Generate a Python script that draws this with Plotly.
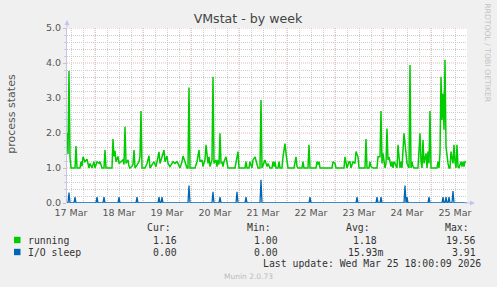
import pandas as pd
import plotly.graph_objects as go

START = pd.Timestamp("2026-03-17 10:00")

# running: (hours since start, value)
run_hours = [0, 0.5, 1.0, 1.5, 2.0, 4.0, 4.5, 5.0, 6.5, 7.0, 7.5, 8.0, 9.0, 10.0, 11.0, 11.5, 12.5, 13.5, 14.0,
             15.0, 16.0, 16.5, 17.5, 18.5, 19.0, 19.5, 22.5, 23.0, 23.5, 24.0, 24.5, 25.5, 26.0, 27.0, 28.0,
             28.5, 29.0, 29.5, 30.5, 31.0, 31.5, 32.5, 33.0, 33.5, 34.0, 35.0, 36.0, 36.5, 37.0, 37.5, 39.0,
             40.0, 41.0, 41.5, 43.0, 43.5, 44.5, 46.0, 46.5, 47.5, 48.5, 49.0, 50.0, 50.5, 51.5, 52.5, 53.0,
             54.0, 55.0, 55.5, 56.5, 57.5, 58.0, 59.0, 60.0, 60.5, 61.0, 61.5, 64.0, 65.0, 65.5, 66.0, 66.5,
             67.5, 68.0, 69.0, 69.5, 70.5, 71.0, 71.5, 72.5, 73.0, 73.5, 74.5, 75.0, 75.5, 76.0, 76.5, 77.0,
             77.5, 78.0, 78.5, 79.5, 80.0, 80.5, 84.0, 85.0, 85.5, 86.0, 89.0, 89.5, 90.0, 91.0, 91.5, 92.5,
             93.0, 94.0, 95.0, 95.5, 96.5, 97.0, 97.5, 98.5, 99.0, 100.0, 100.5, 101.5, 102.5, 103.0, 103.5,
             104.0, 104.5, 105.5, 106.0, 106.5, 107.5, 108.0, 109.0, 109.5, 110.0, 110.5, 113.5, 114.0, 114.5,
             115.0, 115.5, 117.5, 118.0, 118.5, 120.5, 121.0, 121.5, 124.5, 125.0, 125.5, 126.0, 126.5, 132.5,
             133.0, 134.0, 134.5, 138.5, 139.0, 139.5, 140.0, 141.0, 141.5, 142.0, 143.0, 144.0, 144.5, 145.5,
             146.0, 149.0, 149.5, 150.0, 151.0, 151.5, 152.0, 153.0, 155.0, 155.5, 156.5, 157.0, 157.5, 158.0,
             159.0, 159.5, 160.0, 160.5, 161.0, 162.0, 162.5, 163.0, 163.5, 164.0, 165.0, 165.5, 166.0, 166.5,
             167.0, 167.5, 168.0, 168.5, 169.5, 170.0, 171.0, 171.5, 172.0, 172.5, 173.0, 173.5, 175.5, 176.5,
             177.0, 177.5, 178.0, 178.5, 179.5, 180.0, 180.5, 181.0, 181.5, 182.0, 185.0, 185.5, 186.0, 186.5,
             187.0, 187.5, 188.0, 188.5, 189.0, 189.5, 190.5, 191.0, 191.5, 192.0, 193.0, 193.5, 194.0, 194.5,
             195.0, 195.5, 196.0, 197.0, 197.5, 198.0, 198.5, 199.0, 199.5]
run_values = [2.0, 1.4, 3.77, 1.3, 1.0, 1.0, 1.63, 1.0, 1.0, 1.18, 1.05, 1.32, 1.18, 1.25, 1.0, 1.13, 1.0, 1.18, 1.0,
              1.18, 1.13, 1.18, 1.0, 1.0, 1.51, 1.0, 1.0, 1.83, 1.33, 1.49, 1.18, 1.33, 1.13, 1.18, 1.23,
              1.1, 2.18, 1.13, 1.23, 1.05, 1.0, 1.05, 1.1, 1.51, 1.0, 1.08, 1.18, 1.33, 2.63, 1.0, 1.0,
              1.13, 1.35, 1.0, 1.13, 1.18, 1.04, 1.46, 1.13, 1.35, 1.51, 1.18, 1.34, 1.13, 1.04, 1.13, 1.18,
              1.13, 1.18, 1.13, 1.0, 1.18, 1.34, 1.18, 1.0, 1.0, 3.30, 1.0, 1.0, 1.18, 1.34, 1.51, 1.18,
              1.23, 1.04, 1.23, 1.66, 1.13, 1.32, 1.04, 1.23, 3.61, 1.13, 1.23, 1.04, 1.23, 1.1, 1.99, 1.13,
              1.18, 1.04, 1.18, 1.32, 1.13, 1.0, 1.0, 1.34, 1.47, 1.0, 1.0, 1.18, 1.0, 1.0, 1.18, 1.0,
              1.23, 1.32, 1.13, 1.0, 1.0, 2.94, 1.0, 1.13, 1.23, 1.04, 1.13, 1.0, 1.0, 1.18, 1.04,
              1.18, 1.0, 1.0, 1.18, 1.0, 1.0, 1.32, 1.70, 1.42, 1.13, 1.0, 1.0, 1.18, 1.32,
              1.04, 1.0, 1.0, 1.18, 1.0, 1.0, 1.66, 1.0, 1.0, 1.18, 1.1, 1.18, 1.0, 1.0,
              1.18, 1.13, 1.0, 1.0, 1.32, 1.18, 1.0, 1.18, 1.18, 1.0, 1.18, 1.13, 1.47, 1.32,
              1.0, 1.0, 1.83, 1.0, 1.0, 1.18, 1.04, 1.0, 1.0, 1.32, 1.32, 2.63, 1.13, 1.42,
              1.0, 1.13, 2.13, 1.23, 1.32, 1.04, 1.18, 1.0, 1.18, 1.13, 1.0, 1.66, 1.18, 1.0,
              1.18, 1.0, 1.51, 1.99, 1.42, 1.13, 1.0, 3.94, 1.0, 1.18, 1.04, 1.0, 1.0, 1.99,
              1.18, 1.0, 1.80, 1.13, 1.42, 1.0, 1.47, 1.13, 2.63, 1.0, 1.0, 1.18, 1.0, 1.42,
              3.61, 2.37, 3.13, 2.09, 4.09, 1.61, 1.13, 1.0, 1.0, 1.47, 1.13, 1.66, 1.18, 1.0,
              1.66, 1.04, 1.0, 1.18, 1.04, 1.18, 1.04, 1.18, 1.16]

# I/O sleep: (hours since start, value)
io_hours = [0, 0.5, 1.0, 1.5, 3.5, 4.0, 4.5, 14.5, 15.0, 15.5, 18.0, 18.5, 19.0, 25.5, 26.0, 26.5, 34.5, 35.0, 35.5,
            45.5, 46.0, 46.5, 47.0, 47.5, 48.0, 60.5, 61.0, 61.5, 72.5, 73.0, 73.5, 76.0, 76.5, 77.0, 84.5, 85.0,
            85.5, 89.0, 89.5, 90.0, 96.5, 97.0, 97.5, 121.0, 121.5, 122.0, 144.5, 145.0, 145.5, 154.5, 155.0,
            155.5, 156.5, 157.0, 157.5, 168.5, 169.0, 169.5, 170.0, 170.5, 180.5, 181.0, 181.5, 187.5, 188.0,
            188.5, 189.0, 189.5, 190.0, 190.5, 191.0, 191.5, 192.5, 193.0, 193.5, 200.0]
io_values = [0, 0, 0.30, 0, 0, 0.17, 0, 0, 0.17, 0, 0, 0.17, 0, 0, 0.17, 0, 0, 0.17, 0,
             0, 0.17, 0, 0, 0.17, 0, 0, 0.50, 0, 0, 0.32, 0, 0, 0.17, 0, 0, 0.32,
             0, 0, 0.17, 0, 0, 0.66, 0, 0, 0.17, 0, 0, 0.17, 0, 0, 0.17,
             0, 0, 0.17, 0, 0, 0.50, 0, 0.17, 0, 0, 0.17, 0, 0, 0.17,
             0, 0, 0.17, 0, 0, 0.17, 0, 0, 0.34, 0, 0]

day_labels = ["17 Mar", "18 Mar", "19 Mar", "20 Mar", "21 Mar", "22 Mar", "23 Mar", "24 Mar", "25 Mar"]
y_major = [1, 2, 3, 4, 5]

series_names = ["running", "I/O sleep"]
series_colors = ["#00CC00", "#0066B3"]
cur_vals = ["1.16", "0.00"]
min_vals = ["1.00", "0.00"]
avg_vals = ["1.18", "15.93m"]
max_vals = ["19.56", "3.91"]

W, H = 497, 287
L, R, T, B = 67, 467, 28, 203


def px(x):
    return (x - L) / (R - L)


def py(y):
    return (B - y) / (B - T)


run_x = [START + pd.Timedelta(hours=h) for h in run_hours]
io_x = [START + pd.Timedelta(hours=h) for h in io_hours]
end = START + pd.Timedelta(hours=200)

fig = go.Figure()
fig.add_trace(go.Scatter(x=run_x, y=run_values, mode="lines", name="running",
                         line=dict(color=series_colors[0], width=1.5), showlegend=False))
fig.add_trace(go.Scatter(x=io_x, y=io_values, mode="lines", name="I/O sleep",
                         line=dict(color=series_colors[1], width=1.3), showlegend=False))

noons = pd.date_range("2026-03-17 12:00", periods=len(day_labels), freq="D")
midnights = pd.date_range("2026-03-18 00:00", periods=8, freq="D")

grid_minor = "#CDCDCD"
grid_major = "#EBB4B4"
axis_col = "#C4C4EC"
tick_font = dict(family="DejaVu Sans", size=9.5, color="#555555")

fig.update_xaxes(range=[START, end], type="date", tickvals=list(noons), ticktext=day_labels,
                 showgrid=False, zeroline=False, showline=False, ticks="",
                 tickfont=tick_font, ticklabelstandoff=2,
                 minor=dict(dtick=6 * 3600 * 1000, tick0="2026-03-17 00:00", showgrid=True,
                            gridcolor=grid_minor, griddash="1px,1px", gridwidth=1))
fig.update_yaxes(range=[0, 5], dtick=1, tick0=0, tickformat=".1f", showgrid=False,
                 zeroline=False,
                 showline=True, linecolor=axis_col, linewidth=1,
                 ticks="outside", ticklen=3, tickcolor=grid_major, tickfont=tick_font,
                 minor=dict(dtick=0.2, showgrid=True, gridcolor=grid_minor, griddash="1px,1px",
                            ticks="outside", ticklen=2, tickcolor=grid_minor))

for m in midnights:
    fig.add_shape(type="line", x0=m, x1=m, y0=0, y1=1, xref="x", yref="y domain",
                  line=dict(color=grid_major, width=1, dash="1px,1px"), layer="below")
for yv in y_major:
    fig.add_shape(type="line", x0=0, x1=1, y0=yv, y1=yv, xref="x domain", yref="y",
                  line=dict(color=grid_major, width=1, dash="1px,1px"), layer="below")

ann = []
# axis arrows
ann.append(dict(x=px(67), y=py(20), xref="paper", yref="paper", ax=0, ay=9,
                showarrow=True, arrowhead=2, arrowsize=1,
                arrowwidth=1, arrowcolor=axis_col, text=""))
ann.append(dict(x=px(475), y=py(203), xref="paper", yref="paper", ax=-12, ay=0,
                showarrow=True, arrowhead=2, arrowsize=1,
                arrowwidth=1, arrowcolor=axis_col, text=""))

ann.append(dict(text="process states", x=px(10.7), y=py(114), xref="paper", yref="paper",
                xanchor="center", yanchor="middle",
                textangle=-90, showarrow=False, font=dict(family="DejaVu Sans", size=11, color="#555555")))
ann.append(dict(text="RRDTOOL / TOBI OETIKER", x=px(487.3), y=py(53.5), xref="paper", yref="paper",
                xanchor="center", yanchor="middle",
                textangle=90, showarrow=False, font=dict(family="DejaVu Sans", size=7.7, color="#C4C4C4")))

mono = dict(family="DejaVu Sans Mono", size=9.8, color="#333333")
for label, xr in [("Cur:", 172), ("Min:", 272), ("Avg:", 371), ("Max:", 470)]:
    ann.append(dict(text=label, x=px(xr), y=py(227.5), xref="paper", yref="paper", xanchor="right",
                    yanchor="middle", showarrow=False, font=mono, borderpad=0))

rows_y = [240, 252]
for i, name in enumerate(series_names):
    yy = rows_y[i]
    fig.add_shape(type="rect", xref="paper", yref="paper", x0=px(14), x1=px(20.5),
                  y0=py(yy + 3.2), y1=py(yy - 3.2), fillcolor=series_colors[i], line=dict(width=0))
    ann.append(dict(text=name, x=px(26.5), y=py(yy), xref="paper", yref="paper", xanchor="left",
                    yanchor="middle", showarrow=False, font=mono, borderpad=0))
    for val, xr in [(cur_vals[i], 178), (min_vals[i], 278.5), (avg_vals[i], 378), (max_vals[i], 477)]:
        xr2 = xr + (6 if val.endswith("m") else 0)
        ann.append(dict(text=val, x=px(xr2), y=py(yy), xref="paper", yref="paper", xanchor="right",
                        yanchor="middle", showarrow=False, font=mono, borderpad=0))

ann.append(dict(text="Last update: Wed Mar 25 18:00:09 2026", x=px(482), y=py(263.5), xref="paper",
                yref="paper", xanchor="right", yanchor="middle", showarrow=False, font=mono, borderpad=0))
ann.append(dict(text="Munin 2.0.73", x=px(248), y=py(276), xref="paper", yref="paper",
                xanchor="center", yanchor="middle",
                showarrow=False, font=dict(family="DejaVu Sans", size=7.5, color="#BBBBBB")))

fig.update_layout(
    width=W, height=H,
    margin=dict(l=L, r=W - R, t=T, b=H - B, pad=0),
    paper_bgcolor="#F0F0F0", plot_bgcolor="#FFFFFF",
    title=dict(text="VMstat - by week", x=248 / W, xref="container", xanchor="center",
               y=1 - 19 / H, yref="container", yanchor="middle",
               font=dict(family="DejaVu Sans", size=12.6, color="#444444")),
    annotations=ann,
    showlegend=False,
)

fig.write_html("out.html")
